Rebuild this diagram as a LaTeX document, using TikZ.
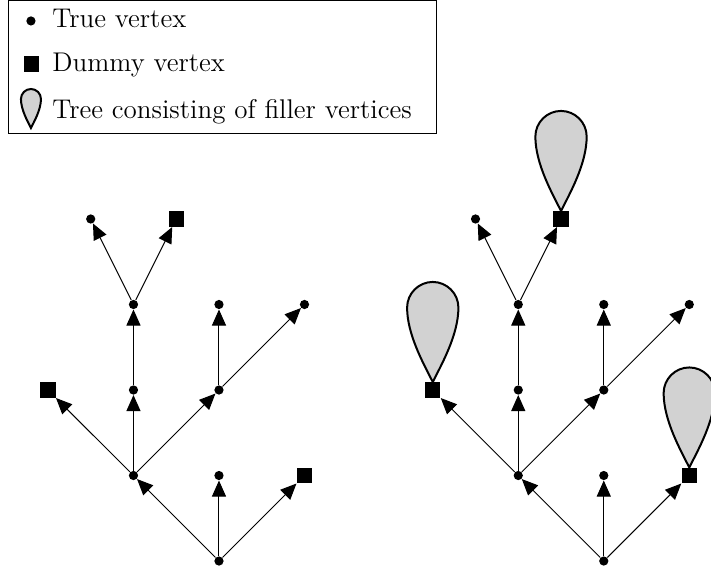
\documentclass[tikz,border=0pt]{standalone}
\usepackage{tikz}
\usetikzlibrary{arrows.meta}

\begin{document}
\begin{tikzpicture}[
    x=1.5cm, y=1.5cm,
    >={Triangle[length=8pt, width=7pt]},
    truev/.style={circle, fill=black, inner sep=0pt, minimum size=4.6pt},
    dummyv/.style={rectangle, fill=black, inner sep=0pt, minimum size=7.6pt},
    arr/.style={->, line width=0.5pt},
    lbl/.style={anchor=base west, inner sep=0pt},
    filler/.pic={
      \draw[line width=1pt, fill=gray!35] (0,0)
        .. controls (-0.1,0.2) and (-0.3,0.55) .. (-0.3,0.87)
        .. controls (-0.3,1.035) and (-0.165,1.17) .. (0,1.17)
        .. controls (0.165,1.17) and (0.3,1.035) .. (0.3,0.87)
        .. controls (0.3,0.55) and (0.1,0.2) .. (0,0) -- cycle;
    },
    font=\fontsize{13.5}{16}\selectfont,
  ]
  \useasboundingbox (-2.561,-0.129) rectangle (5.754,6.561);

  % legend
  \draw[line width=0.5pt] (-2.456,5.0) rectangle (2.538,6.555);
  \node[truev] (keytrue) at (-2.199,6.316) {};
  \node[lbl] (keytruetxt) at (-1.953,6.234) {True vertex};
  \node[dummyv] (keydummy) at (-2.19,5.813) {};
  \node[lbl] (keydummytxt) at (-1.953,5.719) {Dummy vertex};
  \pic[scale=0.39] at (-2.199,5.064) {filler};
  \node[lbl] (keyfillertxt) at (-1.953,5.181) {Tree consisting of filler vertices};

  % the two trees; the right one gets filler trees on its dummies
  \foreach \t/\dx in {l/0, r/4.5} {
    \begin{scope}[shift={(\dx,0)}]
      \node[truev] (\t-root) at (0,0) {};
      \node[truev] (\t-a) at (-1,1) {};
      \node[truev] (\t-b) at (0,1) {};
      \node[dummyv] (\t-c) at (1,1) {};
      \node[dummyv] (\t-d) at (-2,2) {};
      \node[truev] (\t-e) at (-1,2) {};
      \node[truev] (\t-f) at (0,2) {};
      \node[truev] (\t-g) at (-1,3) {};
      \node[truev] (\t-h) at (0,3) {};
      \node[truev] (\t-i) at (1,3) {};
      \node[truev] (\t-j) at (-1.5,4) {};
      \node[dummyv] (\t-k) at (-0.5,4) {};
      \foreach \u/\v in {root/a, root/b, root/c, a/d, a/e, a/f, e/g, f/h, f/i, g/j, g/k}
        \draw[arr] (\t-\u) -- (\t-\v);
    \end{scope}
  }
  \foreach \v in {c, d, k}
    \pic at (r-\v.north) {filler};
\end{tikzpicture}
\end{document}
